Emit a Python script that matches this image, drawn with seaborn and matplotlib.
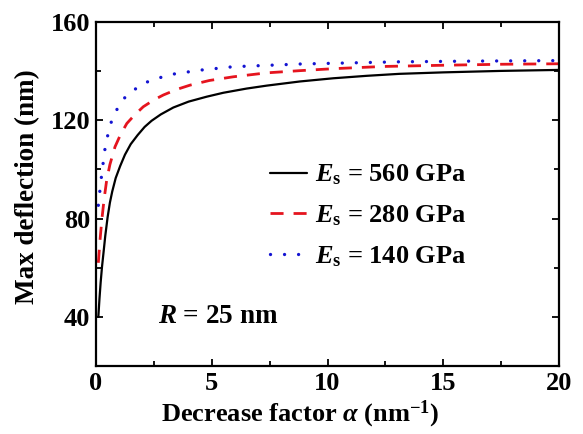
import numpy as np
import pandas as pd
import matplotlib
matplotlib.use("Agg")
import matplotlib.pyplot as plt
from matplotlib.ticker import MultipleLocator
import seaborn as sns

# ---- data ----
x_560 = [0.1, 0.15, 0.2, 0.26, 0.32, 0.4, 0.5, 0.6, 0.7, 0.85, 1.04, 1.25, 1.5, 1.8,
         2.1, 2.4, 2.8, 3.34, 4.0, 4.78, 5.5, 6.5, 7.37, 8.81, 10.25, 11.7, 13.1,
         15.0, 17.5, 20.0]
y_560 = [40, 47.5, 54, 60.5, 65.8, 73, 80.5, 86.5, 91, 96.5, 101.3, 106, 110.3, 114,
         117.3, 119.8, 122.4, 125.2, 127.6, 129.6, 131.2, 132.9, 134.1, 135.8, 137.1,
         138.1, 138.9, 139.5, 140.1, 140.5]

x_280 = [0.1, 0.18, 0.25, 0.35, 0.46, 0.6, 0.82, 1.05, 1.33, 1.65, 2.04, 2.5, 2.91, 3.5,
         4.06, 4.9, 5.93, 7.37, 8.81, 10.25, 12.4, 15.0, 17.5, 20.0]
y_280 = [62, 72, 79.4, 88, 95.6, 102, 109.2, 114, 118.7, 122, 125.5, 128.3, 130.3, 132.6,
         134.3, 136.2, 137.7, 139.3, 140.2, 141, 141.9, 142.4, 142.8, 143]

x_140 = [0.1, 0.17, 0.25, 0.39, 0.52, 0.68, 0.96, 1.2, 1.47, 2.04, 2.62, 3.34, 4.49,
         5.93, 8.81, 13.1, 16.5, 20.0]
y_140 = [85.4, 91.6, 98.4, 108.6, 114.5, 120, 125.5, 128.8, 131.2, 135, 137, 138.8, 140.4,
         141.8, 142.9, 143.8, 144.1, 144.3]

labels = [r"$E_\mathrm{s}$ = 560 GPa", r"$E_\mathrm{s}$ = 280 GPa", r"$E_\mathrm{s}$ = 140 GPa"]
x_ticks = [0, 5, 10, 15, 20]
y_ticks = [40, 80, 120, 160]

df = pd.concat([
    pd.DataFrame({"x": x_560, "y": y_560, "series": labels[0]}),
    pd.DataFrame({"x": x_280, "y": y_280, "series": labels[1]}),
    pd.DataFrame({"x": x_140, "y": y_140, "series": labels[2]}),
])

sns.set_theme(style="ticks")
plt.rcParams["font.family"] = ["Liberation Serif", "DejaVu Serif"]
plt.rcParams["font.weight"] = "bold"
plt.rcParams["mathtext.fontset"] = "custom"
plt.rcParams["mathtext.rm"] = "Liberation Serif:bold"
plt.rcParams["mathtext.it"] = "Liberation Serif:italic:bold"
plt.rcParams["mathtext.bf"] = "Liberation Serif:bold"
for k in ["text.color", "axes.labelcolor", "xtick.color", "ytick.color", "axes.edgecolor"]:
    plt.rcParams[k] = "black"

fig = plt.figure(figsize=(5.83, 4.34), dpi=100)
ax = fig.add_axes([0.1647, 0.1567, 0.7941, 0.7926])

palette = {labels[0]: "black", labels[1]: "#e5141e", labels[2]: "#1414d2"}
sns.lineplot(data=df, x="x", y="y", hue="series", palette=palette, ax=ax,
             sort=False, estimator=None, linewidth=1.6, legend=False)
lines = ax.get_lines()
lines[1].set_linewidth(2.0)
lines[1].set_dashes([4.7, 3.6])
lines[2].set_linewidth(2.4)
lines[2].set_dashes([0.01, 4.2])
lines[2].set_dash_capstyle("round")

ax.set_xlim(0, 20)
ax.set_ylim(20, 160)
ax.set_xticks(x_ticks)
ax.set_yticks(y_ticks)
ax.xaxis.set_minor_locator(MultipleLocator(2.5))
ax.yaxis.set_minor_locator(MultipleLocator(20))
ax.tick_params(which="both", direction="in", top=True, right=True, width=1.3,
               labelsize=19, pad=4)
ax.tick_params(which="major", length=5)
ax.tick_params(which="minor", length=3.5)
for s in ax.spines.values():
    s.set_linewidth(1.6)
for lab in ax.get_xticklabels() + ax.get_yticklabels():
    lab.set_fontweight("bold")

ax.set_xlabel(r"Decrease factor $\alpha$ (nm$^\mathregular{-1}$)", fontsize=19,
              fontweight="bold", labelpad=3, x=0.44)
ax.set_ylabel("Max deflection (nm)", fontsize=19.5, fontweight="bold", labelpad=7.5,
              y=0.522)

leg = ax.legend(lines, labels, loc="center left", bbox_to_anchor=(0.376, 0.436),
                frameon=False, fontsize=19, handlelength=1.4, handletextpad=0.3,
                labelspacing=0.62, borderpad=0, borderaxespad=0)

ax.text(0.2635, 0.145, r"$R$ = 25 nm", transform=ax.transAxes, fontsize=19.5,
        fontweight="bold", ha="center", va="center")

fig.savefig("out.png", dpi=100)
